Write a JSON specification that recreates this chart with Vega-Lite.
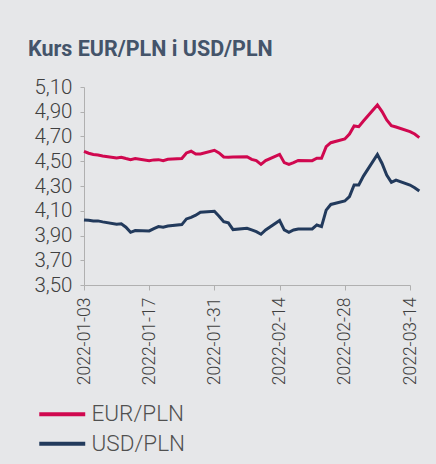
{
  "$schema": "https://vega.github.io/schema/vega-lite/v6.json",
  "autosize": {"type": "none"},
  "width": 326,
  "height": 198,
  "padding": {"left": 84, "top": 87, "right": 26, "bottom": 179},
  "background": "#e6e7e9",
  "config": {"view": {"stroke": null}, "font": "Roboto"},
  "title": {
    "text": "Kurs EUR/PLN i USD/PLN",
    "anchor": "start",
    "frame": "bounds",
    "font": "Roboto",
    "fontSize": 21.5,
    "fontWeight": "bold",
    "color": "#44546a",
    "offset": 17,
    "dx": -6
  },
  "data": {
    "values": [
      {"date": "2022-01-03", "series": "EUR/PLN", "value": 4.580},
      {"date": "2022-01-04", "series": "EUR/PLN", "value": 4.565},
      {"date": "2022-01-05", "series": "EUR/PLN", "value": 4.555},
      {"date": "2022-01-06", "series": "EUR/PLN", "value": 4.551},
      {"date": "2022-01-07", "series": "EUR/PLN", "value": 4.543},
      {"date": "2022-01-10", "series": "EUR/PLN", "value": 4.527},
      {"date": "2022-01-11", "series": "EUR/PLN", "value": 4.532},
      {"date": "2022-01-12", "series": "EUR/PLN", "value": 4.522},
      {"date": "2022-01-13", "series": "EUR/PLN", "value": 4.513},
      {"date": "2022-01-14", "series": "EUR/PLN", "value": 4.522},
      {"date": "2022-01-17", "series": "EUR/PLN", "value": 4.505},
      {"date": "2022-01-18", "series": "EUR/PLN", "value": 4.511},
      {"date": "2022-01-19", "series": "EUR/PLN", "value": 4.513},
      {"date": "2022-01-20", "series": "EUR/PLN", "value": 4.505},
      {"date": "2022-01-21", "series": "EUR/PLN", "value": 4.516},
      {"date": "2022-01-24", "series": "EUR/PLN", "value": 4.522},
      {"date": "2022-01-25", "series": "EUR/PLN", "value": 4.567},
      {"date": "2022-01-26", "series": "EUR/PLN", "value": 4.581},
      {"date": "2022-01-27", "series": "EUR/PLN", "value": 4.559},
      {"date": "2022-01-28", "series": "EUR/PLN", "value": 4.559},
      {"date": "2022-01-31", "series": "EUR/PLN", "value": 4.589},
      {"date": "2022-02-01", "series": "EUR/PLN", "value": 4.567},
      {"date": "2022-02-02", "series": "EUR/PLN", "value": 4.535},
      {"date": "2022-02-03", "series": "EUR/PLN", "value": 4.532},
      {"date": "2022-02-04", "series": "EUR/PLN", "value": 4.535},
      {"date": "2022-02-07", "series": "EUR/PLN", "value": 4.537},
      {"date": "2022-02-08", "series": "EUR/PLN", "value": 4.515},
      {"date": "2022-02-09", "series": "EUR/PLN", "value": 4.505},
      {"date": "2022-02-10", "series": "EUR/PLN", "value": 4.475},
      {"date": "2022-02-11", "series": "EUR/PLN", "value": 4.505},
      {"date": "2022-02-14", "series": "EUR/PLN", "value": 4.556},
      {"date": "2022-02-15", "series": "EUR/PLN", "value": 4.489},
      {"date": "2022-02-16", "series": "EUR/PLN", "value": 4.475},
      {"date": "2022-02-17", "series": "EUR/PLN", "value": 4.489},
      {"date": "2022-02-18", "series": "EUR/PLN", "value": 4.507},
      {"date": "2022-02-21", "series": "EUR/PLN", "value": 4.505},
      {"date": "2022-02-22", "series": "EUR/PLN", "value": 4.524},
      {"date": "2022-02-23", "series": "EUR/PLN", "value": 4.524},
      {"date": "2022-02-24", "series": "EUR/PLN", "value": 4.618},
      {"date": "2022-02-25", "series": "EUR/PLN", "value": 4.650},
      {"date": "2022-02-28", "series": "EUR/PLN", "value": 4.680},
      {"date": "2022-03-01", "series": "EUR/PLN", "value": 4.720},
      {"date": "2022-03-02", "series": "EUR/PLN", "value": 4.785},
      {"date": "2022-03-03", "series": "EUR/PLN", "value": 4.779},
      {"date": "2022-03-04", "series": "EUR/PLN", "value": 4.825},
      {"date": "2022-03-07", "series": "EUR/PLN", "value": 4.955},
      {"date": "2022-03-08", "series": "EUR/PLN", "value": 4.901},
      {"date": "2022-03-09", "series": "EUR/PLN", "value": 4.834},
      {"date": "2022-03-10", "series": "EUR/PLN", "value": 4.788},
      {"date": "2022-03-11", "series": "EUR/PLN", "value": 4.777},
      {"date": "2022-03-14", "series": "EUR/PLN", "value": 4.739},
      {"date": "2022-03-15", "series": "EUR/PLN", "value": 4.720},
      {"date": "2022-03-16", "series": "EUR/PLN", "value": 4.691},
      {"date": "2022-01-03", "series": "USD/PLN", "value": 4.026},
      {"date": "2022-01-04", "series": "USD/PLN", "value": 4.023},
      {"date": "2022-01-05", "series": "USD/PLN", "value": 4.018},
      {"date": "2022-01-06", "series": "USD/PLN", "value": 4.018},
      {"date": "2022-01-07", "series": "USD/PLN", "value": 4.010},
      {"date": "2022-01-10", "series": "USD/PLN", "value": 3.991},
      {"date": "2022-01-11", "series": "USD/PLN", "value": 3.994},
      {"date": "2022-01-12", "series": "USD/PLN", "value": 3.967},
      {"date": "2022-01-13", "series": "USD/PLN", "value": 3.926},
      {"date": "2022-01-14", "series": "USD/PLN", "value": 3.940},
      {"date": "2022-01-17", "series": "USD/PLN", "value": 3.937},
      {"date": "2022-01-18", "series": "USD/PLN", "value": 3.956},
      {"date": "2022-01-19", "series": "USD/PLN", "value": 3.972},
      {"date": "2022-01-20", "series": "USD/PLN", "value": 3.967},
      {"date": "2022-01-21", "series": "USD/PLN", "value": 3.977},
      {"date": "2022-01-24", "series": "USD/PLN", "value": 3.988},
      {"date": "2022-01-25", "series": "USD/PLN", "value": 4.034},
      {"date": "2022-01-26", "series": "USD/PLN", "value": 4.047},
      {"date": "2022-01-27", "series": "USD/PLN", "value": 4.064},
      {"date": "2022-01-28", "series": "USD/PLN", "value": 4.088},
      {"date": "2022-01-31", "series": "USD/PLN", "value": 4.096},
      {"date": "2022-02-01", "series": "USD/PLN", "value": 4.056},
      {"date": "2022-02-02", "series": "USD/PLN", "value": 4.012},
      {"date": "2022-02-03", "series": "USD/PLN", "value": 4.002},
      {"date": "2022-02-04", "series": "USD/PLN", "value": 3.948},
      {"date": "2022-02-07", "series": "USD/PLN", "value": 3.958},
      {"date": "2022-02-08", "series": "USD/PLN", "value": 3.945},
      {"date": "2022-02-09", "series": "USD/PLN", "value": 3.931},
      {"date": "2022-02-10", "series": "USD/PLN", "value": 3.910},
      {"date": "2022-02-11", "series": "USD/PLN", "value": 3.945},
      {"date": "2022-02-14", "series": "USD/PLN", "value": 4.021},
      {"date": "2022-02-15", "series": "USD/PLN", "value": 3.945},
      {"date": "2022-02-16", "series": "USD/PLN", "value": 3.926},
      {"date": "2022-02-17", "series": "USD/PLN", "value": 3.945},
      {"date": "2022-02-18", "series": "USD/PLN", "value": 3.953},
      {"date": "2022-02-21", "series": "USD/PLN", "value": 3.953},
      {"date": "2022-02-22", "series": "USD/PLN", "value": 3.985},
      {"date": "2022-02-23", "series": "USD/PLN", "value": 3.972},
      {"date": "2022-02-24", "series": "USD/PLN", "value": 4.105},
      {"date": "2022-02-25", "series": "USD/PLN", "value": 4.151},
      {"date": "2022-02-28", "series": "USD/PLN", "value": 4.179},
      {"date": "2022-03-01", "series": "USD/PLN", "value": 4.214},
      {"date": "2022-03-02", "series": "USD/PLN", "value": 4.308},
      {"date": "2022-03-03", "series": "USD/PLN", "value": 4.308},
      {"date": "2022-03-04", "series": "USD/PLN", "value": 4.380},
      {"date": "2022-03-07", "series": "USD/PLN", "value": 4.555},
      {"date": "2022-03-08", "series": "USD/PLN", "value": 4.482},
      {"date": "2022-03-09", "series": "USD/PLN", "value": 4.388},
      {"date": "2022-03-10", "series": "USD/PLN", "value": 4.329},
      {"date": "2022-03-11", "series": "USD/PLN", "value": 4.348},
      {"date": "2022-03-14", "series": "USD/PLN", "value": 4.308},
      {"date": "2022-03-15", "series": "USD/PLN", "value": 4.286},
      {"date": "2022-03-16", "series": "USD/PLN", "value": 4.259}
    ]
  },
  "mark": {"type": "line", "strokeWidth": 3, "clip": false},
  "encoding": {
    "x": {
      "field": "date",
      "type": "temporal",
      "scale": {
        "type": "utc",
        "domain": [
          {"year": 2022, "month": 1, "date": 3, "utc": true},
          {"year": 2022, "month": 3, "date": 14, "utc": true}
        ]
      },
      "axis": {
        "title": null,
        "values": [
          {"year": 2022, "month": 1, "date": 3, "utc": true},
          {"year": 2022, "month": 1, "date": 17, "utc": true},
          {"year": 2022, "month": 1, "date": 31, "utc": true},
          {"year": 2022, "month": 2, "date": 14, "utc": true},
          {"year": 2022, "month": 2, "date": 28, "utc": true},
          {"year": 2022, "month": 3, "date": 14, "utc": true}
        ],
        "labelExpr": "utcFormat(datum.value, '%Y-%m-%d')",
        "labelAngle": -90,
        "labelFont": "Roboto",
        "labelFontWeight": 300,
        "labelFontSize": 17.5,
        "labelColor": "#404040",
        "labelPadding": 7,
        "labelFlush": false,
        "labelOverlap": false,
        "grid": false,
        "domainColor": "#b0b0b0",
        "tickColor": "#b0b0b0",
        "tickSize": 5
      }
    },
    "y": {
      "field": "value",
      "type": "quantitative",
      "scale": {"domain": [3.5, 5.1], "zero": false, "nice": false},
      "axis": {
        "title": null,
        "values": [3.5, 3.7, 3.9, 4.1, 4.3, 4.5, 4.7, 4.9, 5.1],
        "labelExpr": "replace(format(datum.value, '.2f'), '.', ',')",
        "labelFont": "Roboto",
        "labelFontWeight": 300,
        "labelFontSize": 20.5,
        "labelColor": "#404040",
        "labelPadding": 8,
        "labelFlush": false,
        "labelOverlap": false,
        "grid": false,
        "domainColor": "#b0b0b0",
        "tickColor": "#b0b0b0",
        "tickSize": 4
      }
    },
    "color": {
      "field": "series",
      "type": "nominal",
      "scale": {"domain": ["EUR/PLN", "USD/PLN"], "range": ["#d0084f", "#223a5c"]},
      "legend": {
        "title": null,
        "orient": "none",
        "legendX": -33,
        "legendY": 316,
        "direction": "vertical",
        "symbolType": "M-4,0H4",
        "symbolSize": 132,
        "symbolStrokeWidth": 4,
        "symbolFillColor": "transparent",
        "rowPadding": 6.5,
        "labelFont": "Roboto",
        "labelFontWeight": 300,
        "labelFontSize": 22.5,
        "labelColor": "#505050",
        "labelOffset": 18
      }
    }
  }
}
